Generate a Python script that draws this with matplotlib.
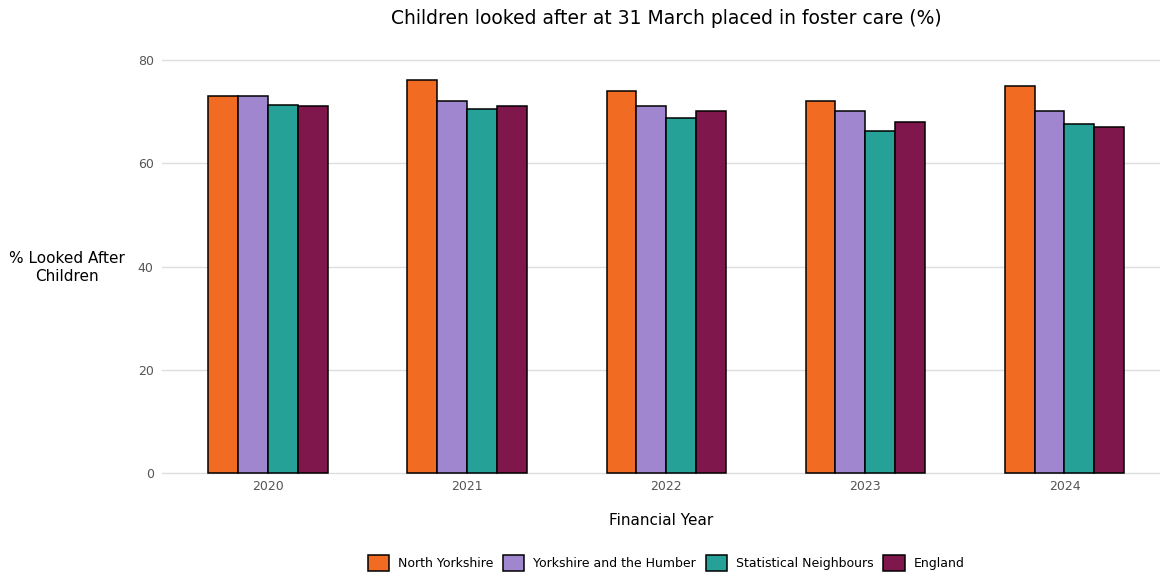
import matplotlib.pyplot as plt
from matplotlib.patches import Patch
import numpy as np

years = ["2020", "2021", "2022", "2023", "2024"]
series = ["North Yorkshire", "Yorkshire and the Humber", "Statistical Neighbours", "England"]
north_yorkshire = [73, 76, 74, 72, 75]
yorks_humber = [73, 72, 71, 70, 70]
stat_neighbours = [71.2, 70.4, 68.7, 66.2, 67.6]
england = [71, 71, 70, 68, 67]
colors = ["#f26b22", "#a086cf", "#26a197", "#7f174d"]

fig = plt.figure(figsize=(11.6, 5.76), dpi=100)
ax = fig.add_axes([162 / 1160, 1 - 478 / 576, (1160 - 162) / 1160, (478 - 38) / 576])

x = np.arange(len(years))
w = 0.15
all_vals = [north_yorkshire, yorks_humber, stat_neighbours, england]
for i, vals in enumerate(all_vals):
    ax.bar(x + (i - 1.5) * w, vals, width=w, color=colors[i],
           edgecolor="black", linewidth=1.1, zorder=3)

ax.set_xlim(-0.533, 4.48)
ax.set_ylim(-0.9, 84.2)
ax.set_yticks([0, 20, 40, 60, 80])
ax.set_xticks(x)
ax.set_xticklabels(years)
ax.tick_params(length=0, labelsize=9, colors="#555555", pad=6)
ax.tick_params(axis="x", pad=1.5)
ax.grid(axis="y", color="#dedede", linewidth=1, zorder=0)
for s in ax.spines.values():
    s.set_visible(False)

ax.set_xlabel("Financial Year", fontsize=11, labelpad=14)
ax.set_ylabel("% Looked After\nChildren", fontsize=11, rotation=0,
              ha="center", va="center")
ax.yaxis.set_label_coords(-0.095, 0.478)
fig.text(666 / 1160, 1 - 18 / 576, "Children looked after at 31 March placed in foster care (%)",
         ha="center", va="center", fontsize=13.5)

handles = [Patch(facecolor=c, edgecolor="black", linewidth=1.1) for c in colors]
fig.legend(handles, series, loc="center", bbox_to_anchor=(666 / 1160, 1 - 563 / 576),
           ncol=4, frameon=False, fontsize=9, handlelength=1.7, handleheight=1.7,
           handletextpad=0.7, columnspacing=0.8)

fig.savefig("out.png", dpi=100)
